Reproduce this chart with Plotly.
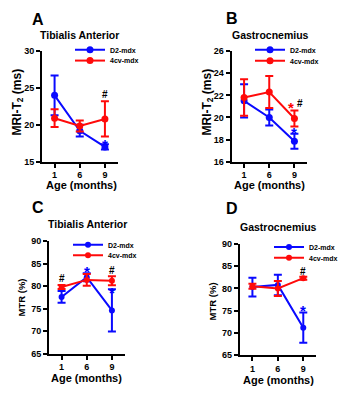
import plotly.graph_objects as go

# ---------------- data ----------------
categories = ["1", "6", "9"]

A_d2 = [24.0, 19.2, 17.0]
A_d2_sem = [2.7, 0.8, 0.35]
A_4cv = [20.9, 19.85, 20.8]
A_4cv_sem = [1.2, 0.75, 2.4]

B_d2 = [21.5, 20.0, 17.85]
B_d2_sem = [1.5, 0.72, 0.68]
B_4cv = [21.8, 22.3, 19.9]
B_4cv_sem = [1.65, 1.45, 0.72]

C_d2 = [77.6, 82.0, 74.6]
C_d2_sem = [1.3, 0.9, 4.7]
C_4cv = [79.8, 81.4, 81.2]
C_4cv_sem = [0.45, 1.3, 1.0]

D_d2 = [80.3, 80.8, 71.2]
D_d2_sem = [2.1, 2.3, 3.4]
D_4cv = [80.5, 80.0, 82.3]
D_4cv_sem = [0.55, 1.7, 0.35]

series_names = ["D2-mdx", "4cv-mdx"]
panel_letters = ["A", "B", "C", "D"]
panel_titles = ["Tibialis Anterior", "Gastrocnemius", "Tibialis Anterior", "Gastrocnemius"]
y_titles = ["MRI-T<sub>2</sub> (ms)", "MRI-T<sub>2</sub> (ms)", "MTR (%)", "MTR (%)"]
x_title = "Age (months)"

# significance marks: panel, category, y value, symbol, colour
sig_panel = ["A", "A", "B", "B", "B", "C", "C", "C", "C", "D", "D"]
sig_x = ["9", "9", "9", "9", "9", "1", "6", "9", "9", "9", "9"]
sig_y = [24.1, 17.9, 21.3, 21.3, 19.0, 81.8, 84.1, 83.5, 79.4, 83.8, 75.9]
sig_text = ["#", "*", "*", "#", "*", "#", "*", "#", "*", "#", "*"]
sig_color = ["black", "blue", "red", "black", "blue", "black", "blue", "black", "blue", "black", "blue"]

# ---------------- styling ----------------
W, H = 351, 400
FONT = "Liberation Sans, Arial, sans-serif"
BLUE = "#0a0aff"
RED = "#ff0a0a"

def px_x(p):
    return p / W

def px_y(p):
    return 1 - p / H

panels = {
    "A": dict(ax="", x0=42, x1=117.5, ytop=47.3, ybot=160.7, yr=[15, 30], dt=5,
              d2=A_d2, d2e=A_d2_sem, cv=A_4cv, cve=A_4cv_sem, ms=7,
              legx=70, legy=(46, 57), title=(79, 31), letter=(38, 15), ytitle=(17, 100), ysz=12,
              xtitle=(81, 185)),
    "B": dict(ax="2", x0=231.5, x1=307, ytop=47.3, ybot=160.7, yr=[16, 26], dt=2,
              d2=B_d2, d2e=B_d2_sem, cv=B_4cv, cve=B_4cv_sem, ms=7,
              legx=250, legy=(46, 57.3), title=(270, 31), letter=(232, 14), ytitle=(207, 100), ysz=12,
              xtitle=(269, 185)),
    "C": dict(ax="3", x0=49, x1=124.5, ytop=242.3, ybot=357.5, yr=[65, 90], dt=5,
              d2=C_d2, d2e=C_d2_sem, cv=C_4cv, cve=C_4cv_sem, ms=6,
              legx=68, legy=(246, 256.7), title=(87, 225), letter=(38, 208), ytitle=(21, 300), ysz=9.5,
              xtitle=(86, 383)),
    "D": dict(ax="4", x0=239.7, x1=316, ytop=245, ybot=359.3, yr=[65, 90], dt=5,
              d2=D_d2, d2e=D_d2_sem, cv=D_4cv, cve=D_4cv_sem, ms=6,
              legx=269, legy=(248.3, 259.3), title=(278, 228), letter=(232, 208.5), ytitle=(212, 304),
              ysz=9.5, xtitle=(278, 385)),
}

fig = go.Figure()
layout = dict(
    width=W, height=H, margin=dict(l=0, r=0, t=0, b=0),
    paper_bgcolor="white", plot_bgcolor="white",
    font=dict(family=FONT, color="black"),
    showlegend=True, annotations=[],
)

leg_counter = 0
for i, key in enumerate(panel_letters):
    p = panels[key]
    ax = p["ax"]
    for j, (name, vals, errs, col) in enumerate([(series_names[0], p["d2"], p["d2e"], BLUE),
                                                  (series_names[1], p["cv"], p["cve"], RED)]):
        leg_counter += 1
        legname = "legend" if leg_counter == 1 else "legend%d" % leg_counter
        fig.add_trace(go.Scatter(
            x=categories, y=vals, name=name, mode="lines+markers",
            xaxis="x" + ax, yaxis="y" + ax, legend=legname,
            line=dict(color=col, width=2),
            marker=dict(color=col, size=p["ms"], symbol="circle"),
            error_y=dict(type="data", array=errs, color=col, thickness=2, width=4),
            cliponaxis=False,
        ))
        layout[legname] = dict(x=px_x(p["legx"]), y=px_y(p["legy"][j]), xanchor="left", yanchor="middle",
                               bgcolor="rgba(0,0,0,0)", borderwidth=0, itemwidth=30,
                               font=dict(family=FONT, size=7, color="black", weight="bold"))
    common = dict(showline=True, linecolor="black", linewidth=2, ticks="outside",
                  ticklen=4, tickwidth=1.5, tickcolor="black", showgrid=False, zeroline=False,
                  tickfont=dict(family=FONT, size=9, color="black", weight="bold"))
    layout["xaxis" + ax] = dict(common, domain=[px_x(p["x0"]), px_x(p["x1"])], anchor="y" + ax,
                                type="category", range=[-0.5, 2.5], fixedrange=True)
    layout["yaxis" + ax] = dict(common, domain=[px_y(p["ybot"]), px_y(p["ytop"])], anchor="x" + ax,
                                range=p["yr"], tick0=p["yr"][0], dtick=p["dt"], fixedrange=True)
    anns = layout["annotations"]
    anns.append(dict(text=key, x=px_x(p["letter"][0]), y=px_y(p["letter"][1]), xref="paper", yref="paper",
                     showarrow=False, xanchor="center", yanchor="middle",
                     font=dict(family=FONT, size=16, weight="bold")))
    anns.append(dict(text=panel_titles[i], x=px_x(p["title"][0]), y=px_y(p["title"][1]), xref="paper",
                     yref="paper", showarrow=False, xanchor="center", yanchor="middle",
                     font=dict(family=FONT, size=10.5, weight="bold")))
    anns.append(dict(text=y_titles[i], x=px_x(p["ytitle"][0]), y=px_y(p["ytitle"][1]), xref="paper",
                     yref="paper", showarrow=False, xanchor="center", yanchor="middle", textangle=-90,
                     font=dict(family=FONT, size=p["ysz"], weight="bold")))
    anns.append(dict(text=x_title, x=px_x(p["xtitle"][0]), y=px_y(p["xtitle"][1]), xref="paper",
                     yref="paper", showarrow=False, xanchor="center", yanchor="middle",
                     font=dict(family=FONT, size=11, weight="bold")))

# significance annotations
shift_x = {("B", "*", "red"): -3, ("B", "#", "black"): 6}
for pn, xv, yv, t, c in zip(sig_panel, sig_x, sig_y, sig_text, sig_color):
    ax = panels[pn]["ax"]
    is_star = t == "*"
    layout["annotations"].append(dict(
        text=t, x=categories.index(xv), y=yv, xref="x" + ax, yref="y" + ax, showarrow=False,
        xanchor="center", yanchor="middle",
        xshift=shift_x.get((pn, t, c), 0), yshift=-4 if is_star else 0,
        font=dict(family=FONT, size=15 if is_star else 10, color=c, weight="bold"),
    ))

fig.update_layout(**layout)
fig.write_html("out.html", config={"displayModeBar": False},
               post_script="document.body.style.margin='0px';")
